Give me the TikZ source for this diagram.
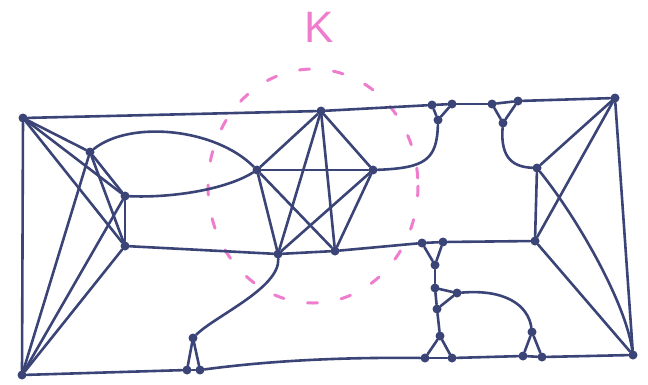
\documentclass[tikz,border=0pt]{standalone}
\usepackage{fontspec}
\setmainfont{Liberation Sans}
\begin{document}
\begin{tikzpicture}[x=1pt,y=-1pt,
  vtx/.style={circle,fill=inkblue,draw=none,inner sep=0pt,minimum size=9pt},
  edge/.style={draw=inkblue,line width=2.6pt,line cap=round,line join=round},
  region/.style={draw=pinkish,line width=3pt,line cap=round,dash pattern=on 10pt off 24pt}]
\definecolor{inkblue}{RGB}{58,68,118}
\definecolor{pinkish}{RGB}{238,125,205}
\useasboundingbox (0,0) rectangle (648,384);
% region K
\draw[region] (313,186) ellipse [x radius=105, y radius=117];
\node[text=pinkish,font=\fontsize{44}{44}\selectfont,inner sep=0pt] (klabel) at (319,27) {K};
% vertices
\node[vtx] (A) at (23,118) {};
\node[vtx] (B) at (90,152) {};
\node[vtx] (C) at (125,196) {};
\node[vtx] (D) at (125,246) {};
\node[vtx] (E) at (22,375) {};
\node[vtx] (Pt) at (321,111) {};
\node[vtx] (Pl) at (257,170) {};
\node[vtx] (Pr) at (373,170) {};
\node[vtx] (Pbl) at (278,254) {};
\node[vtx] (Pbr) at (335,251) {};
\node[vtx] (Ta1) at (432,105) {};
\node[vtx] (Ta2) at (452,104) {};
\node[vtx] (Ta3) at (438,120) {};
\node[vtx] (Ya1) at (492,104) {};
\node[vtx] (Ya2) at (518,101) {};
\node[vtx] (Ya3) at (503,123) {};
\node[vtx] (F) at (615,98) {};
\node[vtx] (R1) at (537,168) {};
\node[vtx] (R2) at (535,241) {};
\node[vtx] (G) at (633,355) {};
\node[vtx] (Tb1) at (422,243) {};
\node[vtx] (Tb2) at (443,242) {};
\node[vtx] (Tb3) at (435,265) {};
\node[vtx] (Tc1) at (435,288) {};
\node[vtx] (Tc2) at (457,293) {};
\node[vtx] (Tc3) at (437,309) {};
\node[vtx] (Td1) at (440,336) {};
\node[vtx] (Td2) at (425,358) {};
\node[vtx] (Td3) at (452,358) {};
\node[vtx] (Te1) at (532,332) {};
\node[vtx] (Te2) at (523,356) {};
\node[vtx] (Te3) at (542,357) {};
\node[vtx] (Tf1) at (193,338) {};
\node[vtx] (Tf2) at (187,370) {};
\node[vtx] (Tf3) at (200,370) {};
% left K5
\draw[edge] (A) -- (B);
\draw[edge] (A) -- (C);
\draw[edge] (A) -- (D);
\draw[edge] (A) -- (E);
\draw[edge] (B) -- (C);
\draw[edge] (B) -- (D);
\draw[edge] (B) -- (E);
\draw[edge] (C) -- (D);
\draw[edge] (C) -- (E);
\draw[edge] (D) -- (E);
% middle K5
\draw[edge] (Pt) -- (Pl);
\draw[edge] (Pt) -- (Pr);
\draw[edge] (Pt) -- (Pbl);
\draw[edge] (Pt) -- (Pbr);
\draw[edge] (Pl) -- (Pr);
\draw[edge] (Pl) -- (Pbl);
\draw[edge] (Pl) -- (Pbr);
\draw[edge] (Pr) -- (Pbl);
\draw[edge] (Pr) -- (Pbr);
\draw[edge] (Pbl) -- (Pbr);
% right K4
\draw[edge] (F) -- (R1);
\draw[edge] (F) -- (R2);
\draw[edge] (F) -- (G);
\draw[edge] (R1) -- (R2);
\draw[edge] (R2) -- (G);
\draw[edge] (R1) .. controls (575,215) and (625,300) .. (G);
% top path
\draw[edge] (A) -- (Pt);
\draw[edge] (Pt) -- (Ta1);
\draw[edge] (Ta1) -- (Ta2);
\draw[edge] (Ta2) -- (Ya1);
\draw[edge] (Ya1) -- (Ya2);
\draw[edge] (Ya2) -- (F);
\draw[edge] (Ta1) -- (Ta3);
\draw[edge] (Ta2) -- (Ta3);
\draw[edge] (Ya1) -- (Ya3);
\draw[edge] (Ya2) -- (Ya3);
\draw[edge] (Ta3) .. controls (437,160) and (425,168) .. (Pr);
\draw[edge] (Ya3) .. controls (500,160) and (515,167) .. (R1);
% curves from the left K5
\draw[edge] (B) .. controls (130,120) and (215,128) .. (Pl);
\draw[edge] (C) .. controls (170,198) and (225,190) .. (Pl);
% middle horizontal path
\draw[edge] (D) -- (Pbl);
\draw[edge] (Pbr) -- (Tb1);
\draw[edge] (Tb1) -- (Tb2);
\draw[edge] (Tb2) -- (R2);
\draw[edge] (Tb1) -- (Tb3);
\draw[edge] (Tb2) -- (Tb3);
\draw[edge] (Tb3) -- (Tc1);
\draw[edge] (Tc1) -- (Tc2);
\draw[edge] (Tc1) -- (Tc3);
\draw[edge] (Tc2) -- (Tc3);
\draw[edge] (Tc3) -- (Td1);
\draw[edge] (Td1) -- (Td2);
\draw[edge] (Td1) -- (Td3);
\draw[edge] (Td2) -- (Td3);
\draw[edge] (Tc2) .. controls (505,289) and (528,305) .. (Te1);
\draw[edge] (Te1) -- (Te2);
\draw[edge] (Te1) -- (Te3);
\draw[edge] (Te2) -- (Te3);
% bottom path
\draw[edge] (E) -- (Tf2);
\draw[edge] (Tf2) -- (Tf3);
\draw[edge] (Tf1) -- (Tf2);
\draw[edge] (Tf1) -- (Tf3);
\draw[edge] (Tf3) .. controls (260,362) and (330,357) .. (Td2);
\draw[edge] (Td3) -- (Te2);
\draw[edge] (Te3) -- (G);
\draw[edge] (Tf1) .. controls (215,316) and (280,288) .. (Pbl);
\end{tikzpicture}
\end{document}
